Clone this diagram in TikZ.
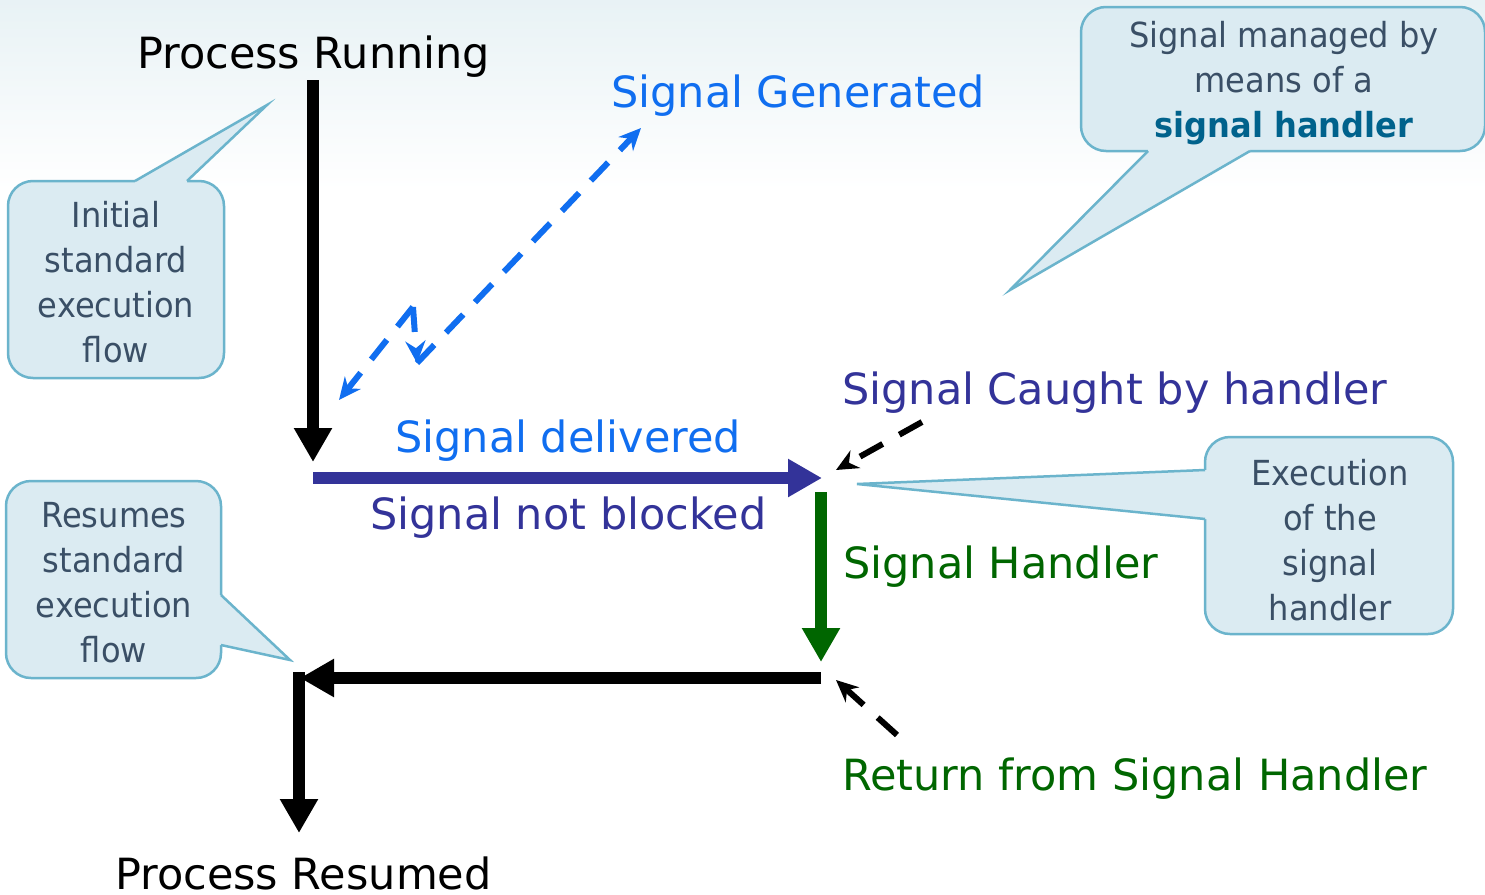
\documentclass[tikz,border=0pt]{standalone}
\usepackage{fontspec}
\setmainfont{DejaVu Sans}
\newfontfamily\callfont[FakeStretch=0.93]{DejaVu Sans}
\usetikzlibrary{arrows.meta}
\definecolor{sigblue}{RGB}{16,110,240}
\definecolor{slate}{RGB}{51,51,153}
\definecolor{hgreen}{RGB}{0,102,0}
\definecolor{callfill}{RGB}{219,235,242}
\definecolor{calldraw}{RGB}{107,180,204}
\definecolor{calltext}{RGB}{58,79,102}
\definecolor{boldtext}{RGB}{0,98,140}
\definecolor{bgtint}{RGB}{232,242,245}
\tikzset{
  lbl/.style={inner sep=0pt, anchor=west, font=\fontsize{43}{50}\selectfont},
  callbox/.style={draw=calldraw, fill=callfill, line width=2.5pt, rounded corners=25pt,
    inner sep=0pt},
  calltxt/.style={align=center, inner sep=0pt, text=calltext,
    font=\callfont\fontsize{34.5}{45}\selectfont},
  callside/.style={draw=calldraw, line width=2.5pt, line join=miter},
  thickarrow/.style={line width=12pt, -{Triangle[length=34pt,width=36pt]}},
  bluedash/.style={draw=sigblue, line width=6pt, dash pattern=on 25pt off 17pt,
    -{Stealth[length=22pt,width=20pt]}},
  blackdash/.style={draw=black, line width=6pt, dash pattern=on 26pt off 19pt,
    -{Stealth[length=22pt,width=20pt]}}
}
\begin{document}
\begin{tikzpicture}[x=1pt,y=-1pt]
\useasboundingbox (0,0) rectangle (1485,894);
\fill[white] (0,0) rectangle (1485,894);
\shade[top color=bgtint, bottom color=white] (0,0) rectangle (1485,190);

% ---- callouts ----
\node[callbox, minimum width=216pt, minimum height=197pt] (c1box) at (116,279.5) {};
\node[calltxt] (c1) at (116,282) {Initial\\standard\\execution\\flow};
\coordinate (c1a) at (135,181); \coordinate (c1b) at (187,181); \coordinate (c1t) at (267,105);

\node[callbox, minimum width=404pt, minimum height=144pt] (c2box) at (1283,79) {};
\node[calltxt] (c2) at (1284,83)
  {Signal managed by\\means of a\\{\bfseries\color{boldtext}signal handler}};
\coordinate (c2a) at (1148,151); \coordinate (c2b) at (1250,151); \coordinate (c2t) at (1010,290);

\node[callbox, minimum width=248pt, minimum height=197pt] (c3box) at (1329,535.5) {};
\node[calltxt] (c3) at (1330,540) {Execution\\of the\\signal\\handler};
\coordinate (c3a) at (1205,470); \coordinate (c3b) at (1205,519); \coordinate (c3t) at (857,484);

\node[callbox, minimum width=215pt, minimum height=197pt] (c4box) at (113.5,579.5) {};
\node[calltxt] (c4) at (114,583) {Resumes\\standard\\execution\\flow};
\coordinate (c4a) at (221,595); \coordinate (c4b) at (221,645); \coordinate (c4t) at (290,660);

% pointers
\fill[callfill] (c1a) -- (c1t) -- (c1b) -- (187,185) -- (135,185) -- cycle;
\draw[callside] (c1a) -- (c1t) -- (c1b);
\fill[callfill] (c2a) -- (c2t) -- (c2b) -- (1250,147) -- (1148,147) -- cycle;
\draw[callside] (c2a) -- (c2t) -- (c2b);
\fill[callfill] (c3a) -- (c3t) -- (c3b) -- (1209,519) -- (1209,470) -- cycle;
\draw[callside] (c3a) -- (c3t) -- (c3b);
\fill[callfill] (c4a) -- (c4t) -- (c4b) -- (217,645) -- (217,595) -- cycle;
\draw[callside] (c4a) -- (c4t) -- (c4b);

% ---- labels ----
\node[lbl] (run) at (137,57) {Process Running};
\node[lbl, text=sigblue] (gen) at (611,96) {Signal Generated};
\node[lbl, text=sigblue] (deliv) at (395,441) {Signal delivered};
\node[lbl, text=slate] (notbl) at (370,518) {Signal not blocked};
\node[lbl, text=slate] (caught) at (842,393) {Signal Caught by handler};
\node[lbl, text=hgreen] (hand) at (843,567) {Signal Handler};
\node[lbl, text=hgreen] (ret) at (842,779) {Return from Signal Handler};
\node[lbl, anchor=base west] (res) at (115,889) {Process Resumed};

% ---- flow arrows ----
\coordinate (p0) at (313,80);   \coordinate (p1) at (313,462);
\coordinate (d0) at (313,478);  \coordinate (d1) at (822,478);
\coordinate (h0) at (821,492);  \coordinate (h1) at (821,662);
\coordinate (r0) at (821,678);  \coordinate (r1) at (300,678);
\coordinate (s0) at (299,672);  \coordinate (s1) at (299,833);
\draw[thickarrow, black] (p0) -- (p1);
\draw[thickarrow, slate] (d0) -- (d1);
\draw[thickarrow, hgreen] (h0) -- (h1);
\draw[thickarrow, black] (r0) -- (r1);
\draw[thickarrow, black] (s0) -- (s1);

% ---- lightning (signal generated) ----
\coordinate (gTip) at (641,128);
\coordinate (bBot) at (417,363);
\coordinate (bTop) at (413,307);
\coordinate (lTip) at (339,400);
\draw[bluedash] (bBot) -- (gTip);
\draw[bluedash] (bTop) -- (lTip);
\draw[bluedash] (bTop) -- (bBot);

% ---- dashed pointers ----
\coordinate (k0) at (922,422); \coordinate (k1) at (836,470);
\coordinate (q0) at (897,735); \coordinate (q1) at (836,680);
\draw[blackdash] (k0) -- (k1);
\draw[blackdash] (q0) -- (q1);
\end{tikzpicture}
\end{document}
